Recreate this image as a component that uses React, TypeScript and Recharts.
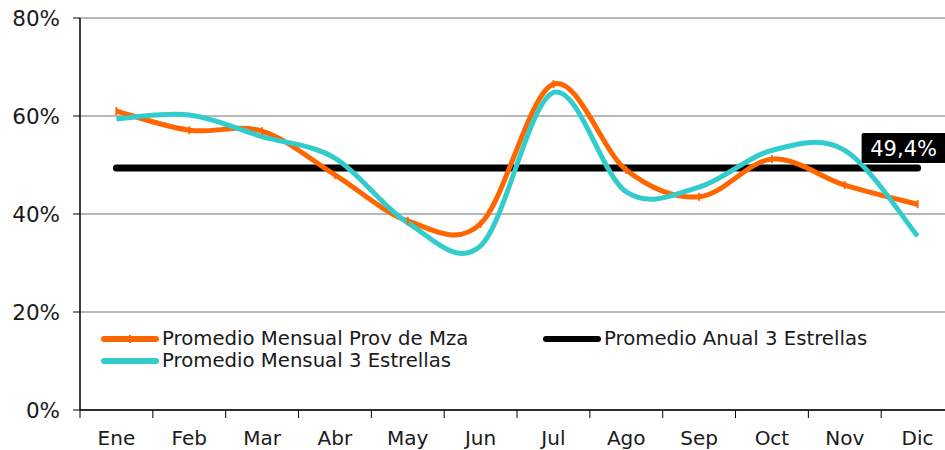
import React from 'react';
import { LineChart, Line, XAxis, YAxis, CartesianGrid, LabelList } from 'recharts';

const meses = ['Ene', 'Feb', 'Mar', 'Abr', 'May', 'Jun', 'Jul', 'Ago', 'Sep', 'Oct', 'Nov', 'Dic'];
const provMza = [61.0, 57.1, 56.9, 48.0, 38.6, 38.0, 66.5, 49.0, 43.5, 51.2, 45.9, 42.0];
const tresEstrellas = [59.4, 60.2, 55.8, 51.4, 38.2, 33.5, 64.8, 44.5, 45.5, 53.0, 53.0, 35.5];
const promedioAnual = 49.4;
const yTicks = [0, 20, 40, 60, 80];

const nombres = {
  prov: 'Promedio Mensual Prov de Mza',
  tres: 'Promedio Mensual 3 Estrellas',
  anual: 'Promedio Anual 3 Estrellas',
};

const data = meses.map((m, i) => ({
  mes: m,
  prov: provMza[i],
  tres: tresEstrellas[i],
  anual: promedioAnual,
}));

const FONT = '"DejaVu Sans", Verdana, sans-serif';
const BAND = 72.8;

// suavizado tipo Excel (catmull-rom)
const suave = (context: any) => {
  let pts: number[][] = [];
  return {
    areaStart() {},
    areaEnd() {},
    lineStart() { pts = []; },
    point(x: number, y: number) { pts.push([+x, +y]); },
    lineEnd() {
      if (!pts.length) return;
      context.moveTo(pts[0][0], pts[0][1]);
      for (let i = 0; i < pts.length - 1; i++) {
        const p0 = pts[i - 1] || pts[i];
        const p1 = pts[i];
        const p2 = pts[i + 1];
        const p3 = pts[i + 2] || p2;
        const t = 1 / 6;
        context.bezierCurveTo(
          p1[0] + (p2[0] - p0[0]) * t, p1[1] + (p2[1] - p0[1]) * t,
          p2[0] - (p3[0] - p1[0]) * t, p2[1] - (p3[1] - p1[1]) * t,
          p2[0], p2[1]
        );
      }
    },
  };
};

const XTick = (props: any) => {
  const { x, y, payload } = props;
  return (
    <g>
      <line x1={x - BAND / 2} x2={x - BAND / 2} y1={y} y2={y + 8} stroke="#000" strokeWidth={1} />
      <text x={x} y={y + 35} textAnchor="middle" fontSize={20} fontFamily={FONT} fill="#1a1a1a">{payload.value}</text>
    </g>
  );
};

const Marca = (props: any) => {
  const { cx, cy } = props;
  if (cx == null || cy == null) return null;
  return <line x1={cx} x2={cx} y1={cy - 4} y2={cy + 4} stroke="#FF6600" strokeWidth={2} />;
};

const Etiqueta = (props: any) => {
  const { x, y, index } = props;
  if (index !== meses.length - 1) return null;
  return (
    <g>
      <rect x={x - 56} y={y - 35} width={90} height={30} rx={2} fill="#000" />
      <text x={x - 14} y={y - 12} textAnchor="middle" fontSize={21} fontFamily={FONT} fill="#fff">49,4%</text>
    </g>
  );
};

const Muestra = ({ color, marca }: { color: string, marca?: boolean }) => (
  <svg width={58} height={10} style={{ display: 'block' }}>
    <line x1={3} x2={55} y1={5} y2={5} stroke={color} strokeWidth={6} strokeLinecap="round" />
    {marca && <line x1={29} x2={29} y1={1} y2={9} stroke={color} strokeWidth={2} />}
  </svg>
);

const ItemLeyenda = ({ left, top, color, texto, marca }: any) => (
  <div style={{ position: 'absolute', left, top, display: 'flex', alignItems: 'center', fontFamily: FONT, fontSize: 19.7, color: '#1a1a1a', whiteSpace: 'nowrap', lineHeight: '21px' }}>
    <Muestra color={color} marca={marca} />
    <span style={{ marginLeft: 3 }}>{texto}</span>
  </div>
);

export default function App() {
  return (
    <div style={{ position: 'relative', width: 945, height: 450, overflow: 'hidden', background: '#fff' }}>
      <style>{'body{margin:0}'}</style>
      <LineChart width={960} height={450} data={data} margin={{ top: 18, right: 6, bottom: 0, left: 0 }}>
        <CartesianGrid vertical={false} stroke="#a0a0a0" strokeWidth={1.5} />
        <XAxis
          dataKey="mes"
          height={40}
          padding={{ left: BAND / 2, right: BAND / 2 }}
          axisLine={{ stroke: '#000', strokeWidth: 1.5 }}
          tickLine={false}
          tickSize={0}
          tickMargin={0}
          tick={<XTick />}
          interval={0}
        />
        <YAxis
          width={80}
          domain={[0, 80]}
          ticks={yTicks}
          tickFormatter={(v) => `${v}%`}
          axisLine={{ stroke: '#000', strokeWidth: 1.5 }}
          tickLine={{ stroke: '#000' }}
          tickSize={7}
          tickMargin={13}
          tick={{ fontSize: 21.5, fontFamily: FONT, fill: '#1a1a1a' }}
        />
        <Line dataKey="anual" name={nombres.anual} stroke="#000" strokeWidth={7} strokeLinecap="round" dot={false} isAnimationActive={false}>
          <LabelList dataKey="anual" content={<Etiqueta />} />
        </Line>
        <Line dataKey="prov" name={nombres.prov} type={suave as any} stroke="#FF6600" strokeWidth={5} dot={<Marca />} isAnimationActive={false} />
        <Line dataKey="tres" name={nombres.tres} type={suave as any} stroke="#33CCCC" strokeWidth={5} dot={false} isAnimationActive={false} />
      </LineChart>
      <ItemLeyenda left={101} top={328} color="#FF6600" texto={nombres.prov} marca />
      <ItemLeyenda left={543} top={328} color="#000" texto={nombres.anual} />
      <ItemLeyenda left={101} top={350} color="#33CCCC" texto={nombres.tres} />
    </div>
  );
}
